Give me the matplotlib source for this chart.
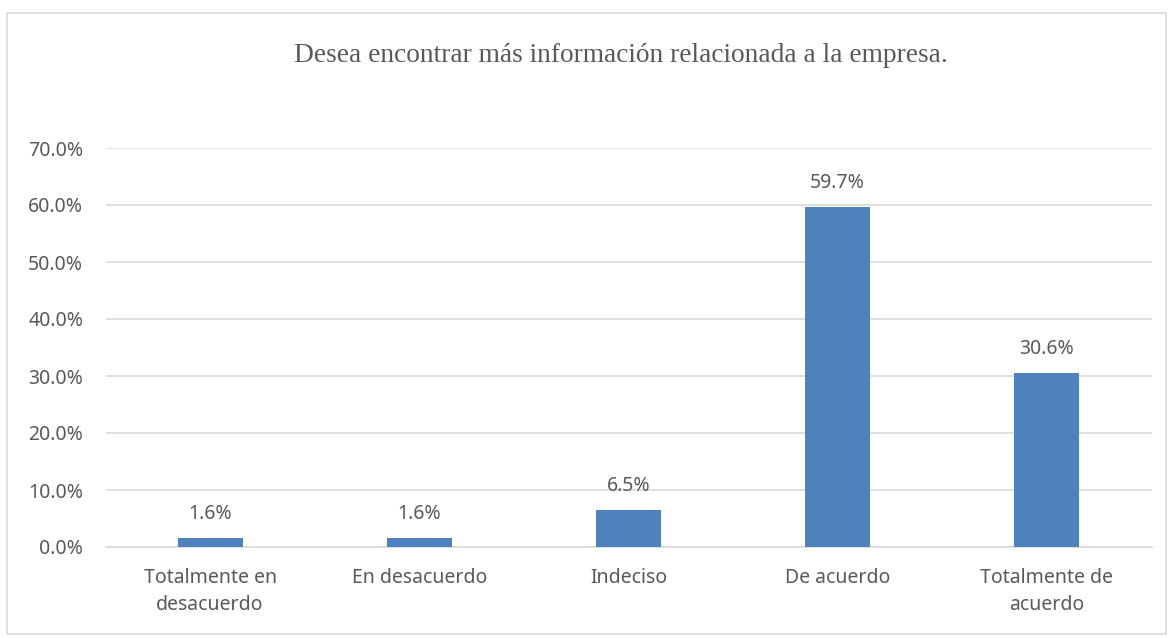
import matplotlib
matplotlib.use("Agg")
import matplotlib.pyplot as plt
from matplotlib.patches import Rectangle
from matplotlib.ticker import FuncFormatter

categories = ["Totalmente en\ndesacuerdo", "En desacuerdo", "Indeciso", "De acuerdo", "Totalmente de\nacuerdo"]
values = [1.6, 1.6, 6.5, 59.7, 30.6]
yticks = [0, 10, 20, 30, 40, 50, 60, 70]
title = "Desea encontrar más información relacionada a la empresa."

W, H = 1169, 638
fig = plt.figure(figsize=(W / 100, H / 100), dpi=100)
fig.patch.set_facecolor("white")

# outer border
fig.add_artist(Rectangle((7 / W, 1 - 634 / H), (1166 - 7) / W, (634 - 13) / H,
                         transform=fig.transFigure, fill=False,
                         edgecolor="#d9d9d9", linewidth=1.2))

ax_left, ax_right = 105.5, 1151.5
ax_top, ax_bottom = 148, 547
ax = fig.add_axes([ax_left / W, 1 - ax_bottom / H, (ax_right - ax_left) / W, (ax_bottom - ax_top) / H])

text_color = "#595959"
font = "Noto Sans"
fs = 14
x = list(range(len(categories)))
bars = ax.bar(x, values, width=0.311, color="#4f81bd", zorder=3)
ax.set_xlim(-0.5, len(categories) - 0.5)
ax.set_ylim(0, 70)
ax.set_yticks(yticks)
ax.yaxis.set_major_formatter(FuncFormatter(lambda v, p: f"{v:.1f}%"))
ax.grid(axis="y", color="#d9d9d9", linewidth=1.2, zorder=0)
for s in ["top", "right", "left"]:
    ax.spines[s].set_visible(False)
ax.spines["bottom"].set_color("#d9d9d9")
ax.spines["bottom"].set_linewidth(1.2)
ax.tick_params(axis="both", length=0, colors=text_color, labelsize=fs)
ax.tick_params(axis="y", pad=16)
ax.tick_params(axis="x", pad=15)
ax.set_xticks(x)
ax.set_xticklabels(categories, fontfamily=font, linespacing=1.45)
for lab in ax.get_yticklabels():
    lab.set_fontfamily(font)

for xi, v in zip(x, values):
    ax.annotate(f"{v:.1f}%", (xi, v), xytext=(0, 10), textcoords="offset points",
                ha="center", va="bottom", fontsize=fs, color=text_color, fontfamily=font)

fig.text(621 / W, 1 - 62 / H, title, ha="center", va="baseline",
         fontsize=19.7, color=text_color, fontfamily="Liberation Serif")

fig.savefig("out.png", dpi=100, facecolor="white")
